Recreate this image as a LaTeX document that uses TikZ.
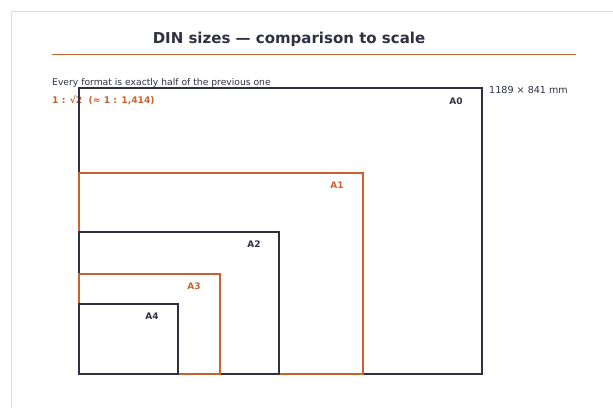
\documentclass[tikz,border=0pt]{standalone}
\usepackage{fontspec}
\setmainfont{DejaVu Sans}
\definecolor{ink}{HTML}{2F3142}
\definecolor{rust}{HTML}{C8622E}
\definecolor{frame}{HTML}{DCDCDC}
\begin{document}
\begin{tikzpicture}[x=1pt,y=-1pt,
  sheetdark/.style={draw=ink,line width=1.5pt},
  sheetrust/.style={draw=rust,line width=1.5pt},
  labdark/.style={font=\fontsize{9}{10}\selectfont\bfseries,text=ink,inner sep=0pt},
  labrust/.style={font=\fontsize{9}{10}\selectfont\bfseries,text=rust,inner sep=0pt}]
\useasboundingbox (0,0) rectangle (613,407);
\fill[white] (0,0) rectangle (613,407);
% card outline
\draw[frame,line width=0.8pt] (11,420) -- (11,11) -- (620,11);
% heading
\node[font=\fontsize{15}{17}\selectfont\bfseries,text=ink] (title) at (289,39.5) {DIN sizes — comparison to scale};
\coordinate (rl) at (52,54);
\coordinate (rr) at (576,54);
\draw[rust,line width=1pt] (rl) -- (rr);
\node[anchor=west,font=\fontsize{9.2}{10}\selectfont,text=ink,inner sep=0pt] (sub) at (52,83) {Every format is exactly half of the previous one};
\node[anchor=west,font=\fontsize{9.2}{10}\selectfont\bfseries,text=rust,inner sep=0pt] (ratio) at (52,100) {1 : √2\ \ (≈ 1 : 1,414)};
% paper sheets, common lower-left corner
\draw[sheetdark] (79,374) rectangle (482,88);
\draw[sheetrust] (79,374) rectangle (363,173);
\draw[sheetdark] (79,374) rectangle (279,232);
\draw[sheetrust] (79,374) rectangle (220,274);
\draw[sheetdark] (79,374) rectangle (178,304);
\node[labdark] (a0) at (456,101) {A0};
\node[labrust] (a1) at (337,185) {A1};
\node[labdark] (a2) at (254,244) {A2};
\node[labrust] (a3) at (194,286) {A3};
\node[labdark] (a4) at (152,316) {A4};
\node[anchor=west,font=\fontsize{9.6}{10}\selectfont,text=ink,inner sep=0pt] (dim) at (489,90) {1189 × 841 mm};
\end{tikzpicture}
\end{document}
